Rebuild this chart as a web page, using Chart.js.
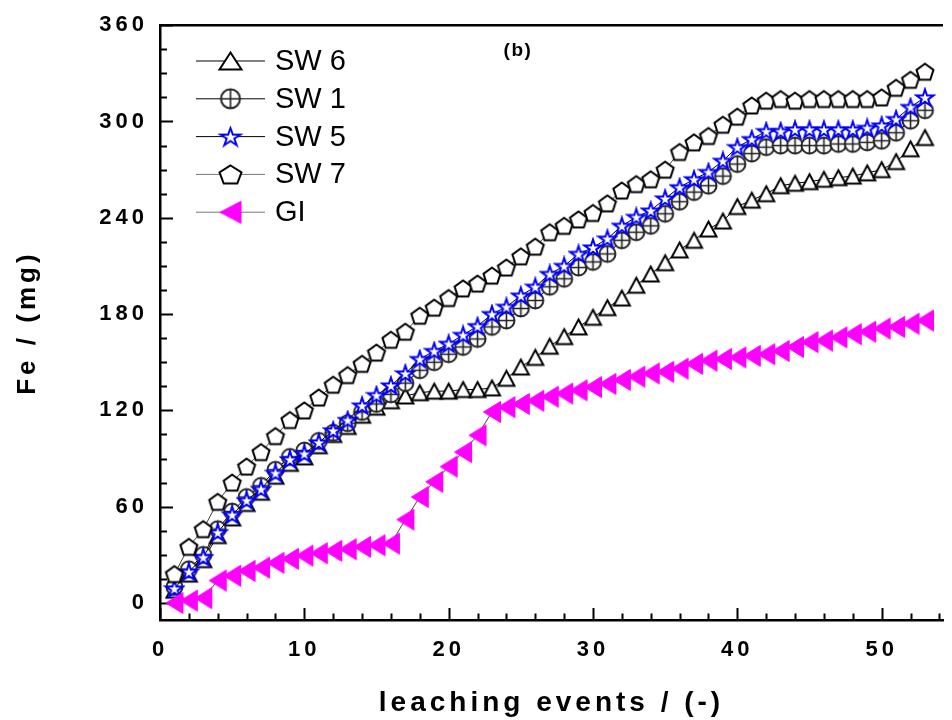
<!DOCTYPE html>
<html>
<head>
<meta charset="utf-8">
<script src="https://cdn.jsdelivr.net/npm/chart.js@4.4.0/dist/chart.umd.min.js"></script>
<style>
html, body { margin: 0; padding: 0; background: #fff; overflow: hidden; }
#chart { display: block; }
</style>
</head>
<body>
<canvas id="chart" width="952" height="720"></canvas>
<script>
// leaching event number
let events = [1, 2, 3, 4, 5, 6, 7, 8, 9, 10, 11, 12, 13, 14, 15, 16, 17, 18, 19, 20,
    21, 22, 23, 24, 25, 26, 27, 28, 29, 30, 31, 32, 33, 34, 35, 36, 37, 38, 39, 40,
    41, 42, 43, 44, 45, 46, 47, 48, 49, 50, 51, 52, 53]

// cumulative Fe (mg)
let sw6 = [8, 18, 27, 42, 53, 62, 69, 79, 87, 91, 98, 105, 110, 117, 122, 126, 129, 131, 132, 132,
    133, 133, 134, 140, 147, 153, 160, 166, 172, 178, 184, 190, 198, 205, 212, 220, 226, 233, 238, 247,
    251, 255, 260, 261.5, 262.5, 264, 265, 266, 268, 270, 275, 283, 290]
let sw1 = [10, 21, 30, 46, 57, 66, 73, 83, 91, 95, 101, 106, 112, 119, 124, 130, 137, 145, 150, 155,
    159.5, 164.5, 172, 176, 183.5, 188.5, 197, 202, 209, 212.5, 217.5, 226, 231, 235, 242.5, 250, 256, 260, 266, 273.5,
    280, 284, 285, 285, 285, 285, 286, 286, 287, 288, 293, 300.5, 307]
let sw5 = [9, 19.5, 28.5, 44, 55, 64, 71, 81, 89.5, 93, 100, 107.5, 114, 123, 129.5, 135.5, 143, 152, 157, 161.5,
    167, 172.5, 180, 184.5, 191.5, 197, 205, 210, 217.5, 221.5, 227, 235, 240.5, 244.5, 252, 259, 264, 268.5, 275.5, 284,
    289, 294, 294, 295, 295, 295, 295, 295, 296, 297.5, 301.5, 309, 315]
let sw7 = [18, 35, 46, 63, 75, 85, 94, 104, 114, 120, 128, 136, 142, 149, 156, 164, 169, 179, 184, 190,
    196, 199, 204, 209, 216, 222, 231, 235, 239, 243, 249, 257, 261, 264, 270, 281, 287, 291, 298, 303,
    310, 313, 314, 313, 314, 314, 314, 314, 314, 315, 321, 326, 331]
let gi = [0, 1.5, 3, 14, 17, 20, 22, 25, 27.5, 29.5, 31, 32.5, 33.5, 35, 36, 37, 52, 66, 75.5, 85,
    94, 104.5, 119, 122, 124, 126, 128.5, 130.5, 132.5, 134.5, 136.5, 139, 141, 143, 144, 146, 149, 151, 152, 153,
    154, 155, 157, 159.5, 162.5, 163.5, 165.5, 167.5, 169, 171, 172, 174, 176]

let seriesNames = ['SW 6', 'SW 1', 'SW 5', 'SW 7', 'GI']
let xTickLabels = [0, 10, 20, 30, 40, 50]
let yTickLabels = [0, 60, 120, 180, 240, 300, 360]

let makeMarker = (kind, w, h, color, lw) => {
    let c = document.createElement('canvas')
    c.width = Math.ceil(w) + 5
    c.height = Math.ceil(h) + 5
    let g = c.getContext('2d')
    let cx = c.width / 2, cy = c.height / 2
    g.lineWidth = lw
    g.strokeStyle = color
    g.fillStyle = '#fff'
    g.beginPath()
    if (kind == 'triUp') {
        g.moveTo(cx, cy - h / 2)
        g.lineTo(cx + w / 2, cy + h / 2)
        g.lineTo(cx - w / 2, cy + h / 2)
        g.closePath()
    } else if (kind == 'triLeft') {
        g.moveTo(cx - w / 2, cy)
        g.lineTo(cx + w / 2, cy - h / 2)
        g.lineTo(cx + w / 2, cy + h / 2)
        g.closePath()
        g.fillStyle = color
    } else if (kind == 'circle') {
        g.ellipse(cx, cy, w / 2, h / 2, 0, 0, Math.PI * 2)
    } else {
        let n = kind == 'star' ? 10 : 5
        let rx = w / 1.902, ry = h / 1.809
        let oy = cy + 0.0955 * ry
        for (let i = 0; i < n; i++) {
            let a = -Math.PI / 2 + i * 2 * Math.PI / n
            let r = (kind == 'star' && i % 2) ? 0.382 : 1
            g.lineTo(cx + Math.cos(a) * r * rx, oy + Math.sin(a) * r * ry)
        }
        g.closePath()
    }
    g.fill()
    g.stroke()
    if (kind == 'circle') {
        g.lineWidth = 1.6
        g.beginPath()
        g.moveTo(cx - w / 2, cy); g.lineTo(cx + w / 2, cy)
        g.moveTo(cx, cy - h / 2); g.lineTo(cx, cy + h / 2)
        g.stroke()
    }
    return c
}

let plotMarks = [
    makeMarker('triUp', 16, 15, '#000', 2),
    makeMarker('circle', 16, 16, '#222', 2),
    makeMarker('star', 17, 16, '#0000ff', 2),
    makeMarker('pentagon', 17, 16, '#000', 2),
    makeMarker('triLeft', 17, 21, '#ff00ff', 1)
]
let legendMarks = [
    makeMarker('triUp', 22, 17, '#000', 2),
    makeMarker('circle', 19, 19, '#222', 2),
    makeMarker('star', 20, 17, '#0000ff', 2),
    makeMarker('pentagon', 22, 18, '#000', 2),
    makeMarker('triLeft', 21, 22, '#ff00ff', 1)
]
let legendLineColors = ['#000', '#000', '#000', '#777', '#777']

let toPoints = (ys) => events.map((x, i) => ({x: x, y: ys[i]}))

let axisDecor = {
    id: 'axisDecor',
    beforeDraw(chart) {
        chart.ctx.letterSpacing = '4px'
    },
    beforeDatasetsDraw(chart) {
        let ctx = chart.ctx
        let area = chart.chartArea
        let xs = chart.scales.x, ys = chart.scales.y
        ctx.save()
        ctx.strokeStyle = '#000'
        ctx.lineWidth = 2
        ctx.beginPath()
        for (let v = 0; v <= xs.max; v += 2) {
            let px = Math.round(xs.getPixelForValue(v)) + 0.5
            let len = v % 10 == 0 ? 12 : 6.5
            ctx.moveTo(px, area.bottom)
            ctx.lineTo(px, area.bottom - len)
        }
        for (let v = 0; v <= ys.max; v += 15) {
            let py = Math.round(ys.getPixelForValue(v)) + 0.5
            let len = v % 60 == 0 ? 13 : 7
            ctx.moveTo(area.left, py)
            ctx.lineTo(area.left + len, py)
        }
        ctx.stroke()
        ctx.lineWidth = 2.5
        ctx.beginPath()
        ctx.moveTo(area.left - 1, area.top)
        ctx.lineTo(area.right, area.top)
        ctx.stroke()
        ctx.restore()
    },
    afterDraw(chart) {
        let ctx = chart.ctx
        ctx.save()
        ctx.letterSpacing = '0px'
        ctx.textBaseline = 'middle'
        seriesNames.forEach((name, i) => {
            let y = 61 + i * 37.8
            ctx.strokeStyle = legendLineColors[i]
            ctx.lineWidth = 1
            ctx.beginPath()
            ctx.moveTo(196, y)
            ctx.lineTo(265, y)
            ctx.stroke()
            let m = legendMarks[i]
            ctx.drawImage(m, 230.5 - m.width / 2, y - m.height / 2)
            ctx.fillStyle = '#000'
            ctx.font = '29px "Liberation Sans", Arial, sans-serif'
            ctx.textAlign = 'left'
            ctx.fillText(name, 275, y + 1)
        })
        ctx.letterSpacing = '1.5px'
        ctx.font = 'bold 19px "Liberation Sans", Arial, sans-serif'
        ctx.textAlign = 'center'
        ctx.fillText('(b)', 518, 51)
        ctx.restore()
    }
}

let datasets = [sw6, sw1, sw5, sw7, gi].map((ys, i) => ({
    label: seriesNames[i],
    data: toPoints(ys),
    showLine: true,
    borderColor: i < 3 ? '#000' : '#444',
    borderWidth: 1,
    pointStyle: plotMarks[i],
    pointRadius: 8,
    order: 5 - i
}))

let ctx = document.getElementById('chart').getContext('2d')
let chart = new Chart(ctx, {
    type: 'scatter',
    data: { datasets: datasets },
    options: {
        responsive: false,
        animation: false,
        devicePixelRatio: 1,
        layout: { padding: { top: 23, right: 0, left: 0, bottom: 0 } },
        plugins: { legend: { display: false }, tooltip: { enabled: false } },
        scales: {
            x: {
                type: 'linear',
                min: 0,
                max: 54.25,
                afterBuildTicks: (s) => { s.ticks = xTickLabels.map(v => ({value: v})) },
                afterFit: (s) => { s.height = 100 },
                grid: { display: false, drawTicks: false },
                border: { display: true, color: '#000', width: 2.5 },
                ticks: {
                    color: '#000',
                    padding: 17,
                    maxRotation: 0,
                    font: { family: '"Liberation Sans", Arial, sans-serif', weight: 'bold', size: 22 }
                },
                title: {
                    display: true,
                    text: 'leaching events / (-)',
                    color: '#000',
                    padding: { top: 0, bottom: 0 },
                    font: { family: '"Liberation Sans", Arial, sans-serif', weight: 'bold', size: 28 }
                }
            },
            y: {
                type: 'linear',
                min: -10.6,
                max: 360,
                afterBuildTicks: (s) => { s.ticks = yTickLabels.map(v => ({value: v})) },
                afterFit: (s) => { s.width = 160 },
                grid: { display: false, drawTicks: false },
                border: { display: true, color: '#000', width: 2.5 },
                ticks: {
                    color: '#000',
                    padding: 12,
                    font: { family: '"Liberation Sans", Arial, sans-serif', weight: 'bold', size: 22 }
                },
                title: {
                    display: true,
                    text: 'Fe / (mg)',
                    color: '#000',
                    padding: { top: 12, bottom: 0 },
                    font: { family: '"Liberation Sans", Arial, sans-serif', weight: 'bold', size: 26 }
                }
            }
        }
    },
    plugins: [axisDecor]
})
</script>
</body>
</html>
